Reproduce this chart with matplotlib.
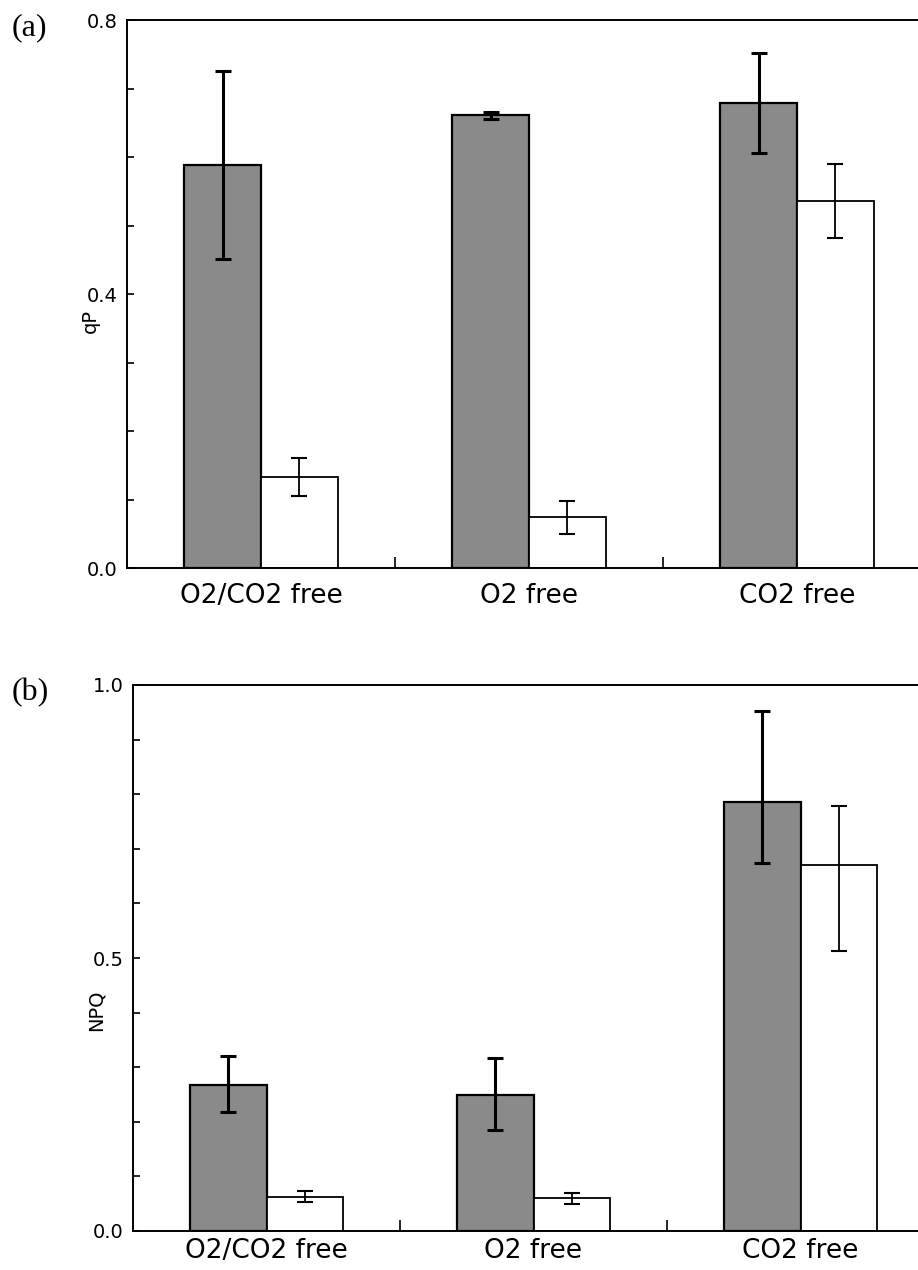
import matplotlib.pyplot as plt
import numpy as np

conditions = ['O2/CO2 free', 'O2 free', 'CO2 free']

# qP, dark bars then light bars
qp_dark = [0.588, 0.661, 0.679]
qp_dark_err = [0.137, 0.005, 0.073]
qp_light = [0.133, 0.074, 0.536]
qp_light_err = [0.028, 0.024, 0.054]

# NPQ
npq_dark = [0.268, 0.249, 0.786]
npq_dark_err_lo = [0.050, 0.064, 0.112]
npq_dark_err_hi = [0.053, 0.067, 0.167]
npq_light = [0.063, 0.060, 0.670]
npq_light_err_lo = [0.009, 0.011, 0.157]
npq_light_err_hi = [0.010, 0.009, 0.109]

W, H = 918, 1270
fig = plt.figure(figsize=(W / 100, H / 100), dpi=100)
plt.rcParams['font.family'] = 'DejaVu Sans'

width = 0.287
off = width / 2


def panel(rect, dark, dark_err, light, light_err, ymax, major, ylabel, label_y, tag, xpad):
    ax = fig.add_axes(rect)
    x = np.arange(len(conditions))
    ax.bar(x - off, dark, width, color='#8a8a8a', edgecolor='black', linewidth=1.6, zorder=2)
    ax.bar(x + off, light, width, color='white', edgecolor='black', linewidth=1.3, zorder=2)
    ax.errorbar(x - off, dark, yerr=dark_err, fmt='none', ecolor='black',
                elinewidth=2.2, capsize=6, capthick=2.2, zorder=3)
    ax.errorbar(x + off, light, yerr=light_err, fmt='none', ecolor='black',
                elinewidth=1.3, capsize=6, capthick=1.5, zorder=3)
    ax.set_xlim(-0.5, 2.5)
    ax.set_ylim(0, ymax)
    ax.set_xticks(x)
    ax.set_xticklabels(conditions)
    ax.set_xticks([0.5, 1.5], minor=True)
    ax.tick_params(axis='x', which='major', length=0, pad=xpad, labelsize=19)
    ax.tick_params(axis='x', which='minor', direction='in', length=8, width=1.2)
    ax.set_yticks(major)
    ax.set_yticklabels([f'{v:.1f}' for v in major])
    ax.set_yticks(np.arange(0, ymax + 1e-6, 0.1), minor=True)
    ax.tick_params(axis='y', which='both', direction='in', length=5, width=1.2, pad=7,
                   labelsize=14)
    for s in ['left', 'bottom', 'top']:
        ax.spines[s].set_linewidth(1.4)
    ax.spines['right'].set_visible(False)
    ax.set_ylabel(ylabel, fontsize=14)
    ax.yaxis.set_label_coords(-0.034, label_y)
    top = rect[1] + rect[3]
    fig.text(12 / W, top - 8 / H, tag, family='Liberation Serif',
             fontsize=23, ha='left', va='center')
    return ax


panel([127 / W, 1 - 568 / H, 804 / W, 548 / H], qp_dark, qp_dark_err, qp_light, qp_light_err,
      0.8, [0.0, 0.4, 0.8], 'qP', 0.45, '(a)', 11)
panel([133 / W, 1 - 1231 / H, 801 / W, 546 / H], npq_dark, [npq_dark_err_lo, npq_dark_err_hi],
      npq_light, [npq_light_err_lo, npq_light_err_hi],
      1.0, [0.0, 0.5, 1.0], 'NPQ', 0.405, '(b)', 5)

fig.savefig('out.png', dpi=100)
